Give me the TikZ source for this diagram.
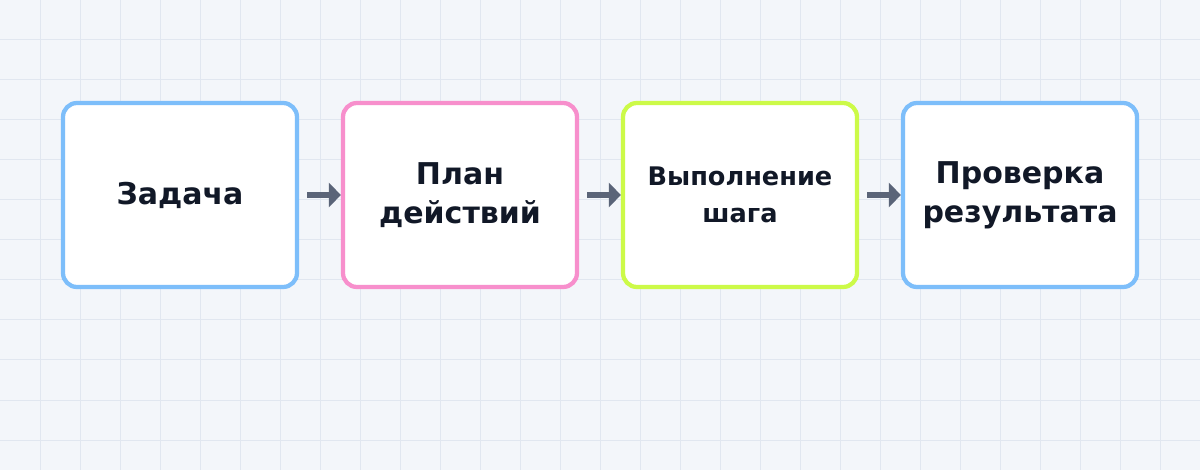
\documentclass[tikz,border=0pt]{standalone}
\usepackage{fontspec}
\setmainfont{DejaVu Sans}
\usetikzlibrary{arrows.meta}
\definecolor{bgc}{HTML}{F3F6FA}
\definecolor{gridc}{HTML}{E1E7F0}
\definecolor{bluec}{HTML}{7DBEFA}
\definecolor{pinkc}{HTML}{F78FCC}
\definecolor{limec}{HTML}{CCFA48}
\definecolor{arrc}{HTML}{5A6478}
\definecolor{txtc}{HTML}{111827}
\tikzset{
  stepbox/.style={draw, line width=3.2pt, fill=white, rounded corners=10.5pt,
    minimum width=175.5pt, minimum height=138pt, inner sep=0pt, align=center,
    text=txtc, font=\fontsize{22.5pt}{29.25pt}\selectfont\bfseries},
  smalltxt/.style={font=\fontsize{19.2pt}{27.75pt}\selectfont\bfseries},
  flow/.style={draw=arrc, line width=4.5pt, -{Triangle[length=9pt,width=18pt]}}
}
\begin{document}
\begin{tikzpicture}[x=0.75pt,y=-0.75pt]
\useasboundingbox (0,0) rectangle (1200,470);
\fill[bgc] (0,0) rectangle (1200,470);
\foreach \i in {40,80,...,1160} \draw[gridc, line width=0.75pt] (\i,0) -- (\i,470);
\foreach \j in {40,80,...,440} \draw[gridc, line width=0.75pt] (0,\j) -- (1200,\j);
\node[stepbox, draw=bluec] (a) at (180,195) {Задача};
\node[stepbox, draw=pinkc] (b) at (460,195) {План\\действий};
\node[stepbox, draw=limec, smalltxt] (c) at (740,195) {Выполнение\\шага};
\node[stepbox, draw=bluec] (d) at (1020,195) {Проверка\\результата};
\draw[flow] ([xshift=6pt]a.east) -- (b.west);
\draw[flow] ([xshift=6pt]b.east) -- (c.west);
\draw[flow] ([xshift=6pt]c.east) -- (d.west);
\end{tikzpicture}
\end{document}
